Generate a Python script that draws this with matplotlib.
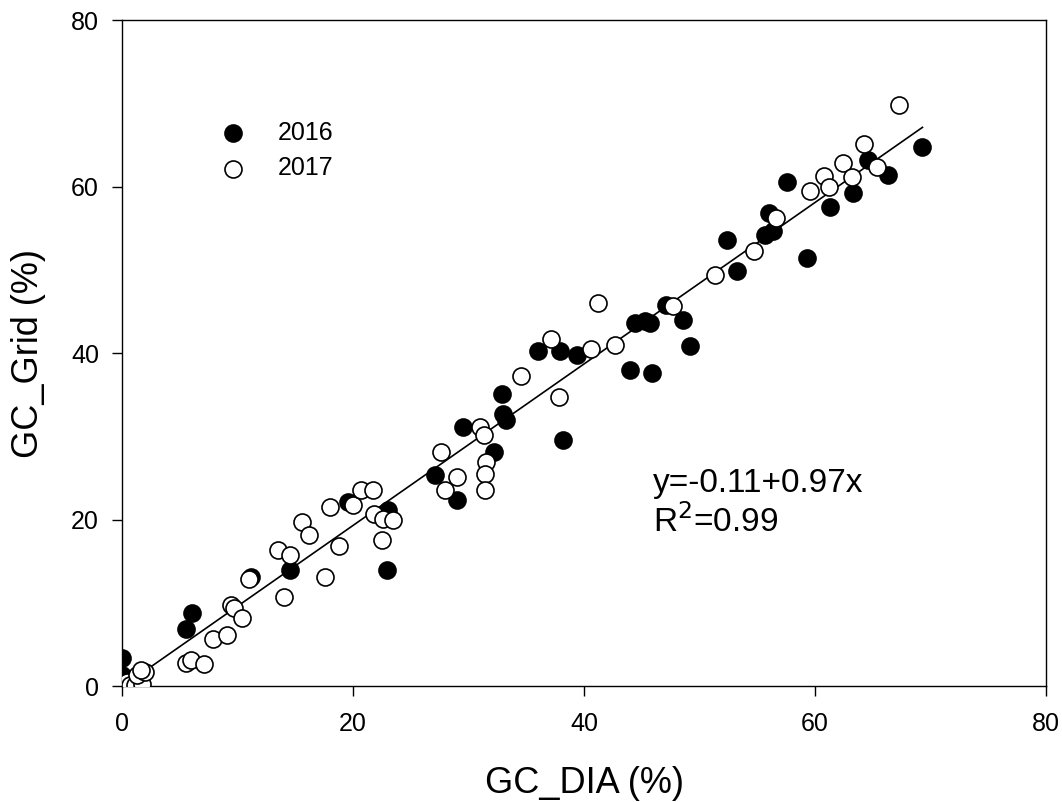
import numpy as np
import matplotlib.pyplot as plt

plt.rcParams['font.family'] = ['Liberation Sans', 'DejaVu Sans']

# 2016 (filled)
dia_2016 = [0.0, 0.0, 0.0, 5.5, 6.1, 11.2, 14.5, 19.6, 23.0, 22.9, 27.1, 29.0, 29.5,
            32.2, 33.2, 33.0, 32.9, 38.2, 36.0, 37.9, 39.4, 44.0, 45.9, 44.4, 45.3,
            45.7, 47.1, 48.6, 49.2, 53.2, 52.4, 55.7, 56.4, 56.0, 59.3, 57.6, 61.3,
            63.3, 64.6, 66.3, 69.3]
grid_2016 = [3.4, 1.3, 0.5, 6.8, 8.8, 13.1, 13.9, 22.1, 21.1, 13.9, 25.3, 22.3, 31.1,
             28.1, 32.0, 32.7, 35.1, 29.5, 40.3, 40.3, 39.8, 38.0, 37.6, 43.6, 43.9,
             43.6, 45.8, 44.0, 40.8, 49.8, 53.6, 54.2, 54.6, 56.8, 51.4, 60.5, 57.5,
             59.2, 63.2, 61.4, 64.8]

# 2017 (open)
dia_2017 = [0.1, 0.4, 0.7, 1.1, 1.7, 1.3, 2.0, 1.6, 5.5, 6.0, 7.1, 7.9, 9.1, 9.4, 9.7,
            10.4, 11.0, 14.0, 13.5, 14.5, 15.6, 16.2, 17.6, 18.8, 18.0, 20.0, 20.7,
            21.7, 21.8, 22.6, 23.5, 22.5, 27.6, 28.0, 29.0, 31.0, 31.3, 31.5, 31.4,
            31.4, 34.5, 37.8, 37.1, 40.6, 41.2, 42.7, 47.7, 51.3, 54.7, 56.6, 59.6,
            60.8, 61.2, 62.4, 63.2, 64.2, 65.4, 67.3]
grid_2017 = [0.1, 0.5, 0.1, 0.1, 0.2, 1.3, 1.7, 1.9, 2.8, 3.1, 2.7, 5.6, 6.1, 9.7, 9.4,
             8.2, 12.8, 10.7, 16.3, 15.7, 19.7, 18.2, 13.1, 16.8, 21.5, 21.7, 23.6,
             23.6, 20.7, 20.1, 19.9, 17.5, 28.1, 23.5, 25.1, 31.1, 30.1, 26.9, 25.5,
             23.5, 37.2, 34.7, 41.7, 40.5, 46.0, 41.0, 45.6, 49.4, 52.2, 56.2, 59.5,
             61.3, 60.0, 62.8, 61.2, 65.1, 62.4, 69.8]

intercept = -0.11
slope = 0.97

fig = plt.figure(figsize=(10.62, 8.02), dpi=100)
ax = fig.add_axes([0.1149, 0.1446, 0.8701, 0.8304])

ax.scatter(dia_2016, grid_2016, s=150, c='black', edgecolors='black', linewidths=1.2,
           zorder=3, label='2016')
ax.scatter(dia_2017, grid_2017, s=150, c='white', edgecolors='black', linewidths=1.2,
           zorder=3, label='2017')

xfit = np.array([0.0, max(dia_2016 + dia_2017)])
ax.plot(xfit, intercept + slope * xfit, color='black', lw=1.2, zorder=2)

ax.set_xlim(0, 80)
ax.set_ylim(0, 80)
ax.set_xticks([0, 20, 40, 60, 80])
ax.set_yticks([0, 20, 40, 60, 80])
ax.tick_params(direction='out', length=7.5, width=1, labelsize=18)
ax.tick_params(axis='x', pad=11)
ax.tick_params(axis='y', pad=9)
for sp in ax.spines.values():
    sp.set_linewidth(1)

ax.set_xlabel('GC_DIA (%)', fontsize=26, labelpad=22)
ax.set_ylabel('GC_Grid (%)', fontsize=26, labelpad=18)

ax.text(46.0, 23.3, 'y=-0.11+0.97x', fontsize=24, va='baseline', ha='left')
ax.text(46.0, 18.5, 'R$^2$=0.99', fontsize=24, va='baseline', ha='left')

leg = ax.legend(loc='upper left', bbox_to_anchor=(0.0958, 0.8635), borderaxespad=0,
                frameon=False, fontsize=18, markerscale=1.0, handlelength=1.0,
                handletextpad=1.3, labelspacing=0.46)

fig.savefig('out.png', dpi=100)
